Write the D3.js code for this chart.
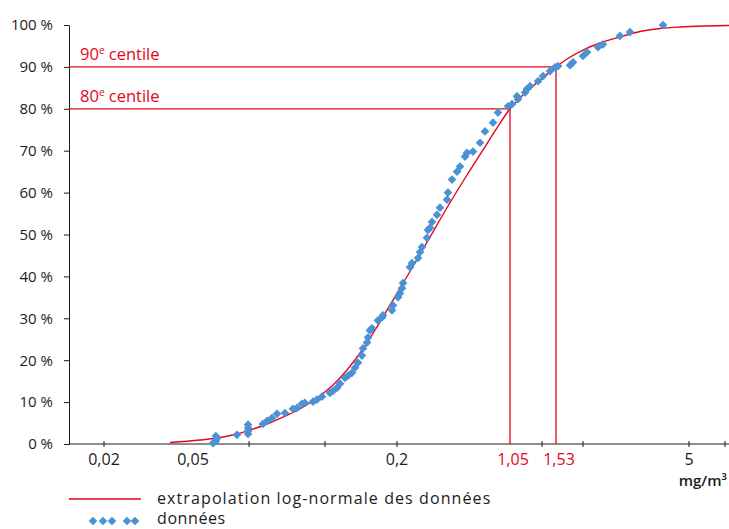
<!DOCTYPE html>
<html><head><meta charset="utf-8">
<script src="https://cdn.jsdelivr.net/npm/d3@7"></script>
<style>
body{margin:0;background:#fff}
svg{display:block}
text{font-family:"Open Sans",sans-serif;}
</style>
</head><body>
<svg id="chart" width="729" height="529"></svg>
<script>
// ---- data (concentration in mg/m³, cumulative %) ----
const dataConc = [0.0573,0.0584,0.0589,0.0584,0.0674,0.0727,0.0727,0.0727,0.0727,0.0804,0.0827,0.0855,0.0885,0.0934,0.0986,0.1014,0.1048,0.1070,0.1130,0.1161,0.1201,0.1268,0.1295,0.1330,0.1358,0.1404,0.1434,0.1473,0.1503,0.1534,0.1576,0.1587,0.1631,0.1642,0.1664,0.1687,0.1757,0.1806,0.1818,0.1933,0.1946,0.2030,0.2090,0.2152,0.2184,0.2420,0.2493,0.2722,0.2804,0.2886,0.3106,0.3152,0.3246,0.3343,0.3597,0.3758,0.4166,0.4227,0.4483,0.4826,0.5042,0.5425,0.5587,0.6102,0.6763,0.7277,0.8184,0.8804,1.0196,1.067,1.121,1.112,1.188,1.207,1.237,1.321,1.376,1.457,1.518,1.558,1.734,1.780,1.946,2.017,2.224,2.324,2.705,2.956,3.966];
const dataPct  = [0.2,0.7,1.4,1.9,2.2,2.4,3.1,3.8,4.6,4.8,5.5,6.2,7.2,7.4,8.4,8.6,9.6,9.8,10.1,10.6,11.3,12.2,12.7,13.4,14.4,15.8,16.3,17.0,18.2,19.4,21.1,22.8,24.2,25.4,27.1,27.6,29.5,30.2,30.7,31.9,33.1,35.0,36.0,37.2,38.4,42.2,43.2,44.4,45.8,47.0,49.2,51.1,51.6,53.0,54.7,56.4,58.3,60.0,63.1,65.0,66.2,68.6,69.5,69.8,71.9,74.6,76.7,79.1,80.6,81.1,82.3,83.0,83.9,84.7,85.4,86.6,87.8,89.0,89.9,90.2,90.4,91.1,92.6,93.5,94.7,95.4,97.4,98.3,100.0];

// log-normal extrapolation curve
const fitConc = [0.0395,0.0524,0.0589,0.0665,0.0736,0.0827,0.0921,0.1034,0.1161,0.1295,0.1424,0.1587,0.1745,0.1907,0.2152,0.2605,0.3246,0.4227,0.5587,0.7066,0.8677,1.05,1.158,1.267,1.398,1.53,1.688,1.946,2.263,2.705,3.231,3.860,4.614,6.60,10];
const fitPct  = [0.36,0.95,1.43,2.27,3.34,4.77,6.44,8.35,10.98,14.08,17.66,22.67,27.92,33.17,37.95,43.2,49.4,56.8,64.2,70.17,75.42,80.0,83.05,85.44,87.83,90.0,91.89,94.03,95.7,97.14,98.45,99.16,99.52,99.76,99.88];

// centiles
const centilePct = [80, 90];
const centileConc = [1.05, 1.53];
const centileNames = ["80", "90"];
const centileValueLabels = ["1,05", "1,53"];

// axes
const yTicks = [0,10,20,30,40,50,60,70,80,90,100];
const xTickMarks = [0.02, 0.0732, 0.1226, 0.2, 1.365, 1.946, 5, 9.33];
const xLabelValues = [0.02, 0.05, 0.2, 5];
const xLabelTexts = ["0,02", "0,05", "0,2", "5"];
const xDomainAnchors = [0.01, 0.02, 0.05, 0.2, 1.05, 1.53, 5, 10];

// ---- drawing ----
const RED = "#e2061b", BLUE = "#4a92d4", INK = "#1c1c1c";
const svg = d3.select("#chart");
const x = d3.scaleLog().domain(xDomainAnchors).range([69, 104, 193, 397, 510, 556, 689, 729]);
const y = d3.scaleLinear().domain([0, 100]).range([444, 25]);

// y axis
const yAxis = svg.append("g").attr("transform", "translate(69,0)")
  .call(d3.axisLeft(y).tickValues(yTicks).tickSize(5).tickSizeOuter(0).tickPadding(11).tickFormat(d => d + " %"));
yAxis.selectAll("path,line").attr("stroke", INK);
yAxis.selectAll("text").attr("font-size", 15).attr("fill", INK).attr("font-family", '"Open Sans",sans-serif');

// x axis
svg.append("line").attr("x1", x.range()[0]).attr("x2", 729).attr("y1", y(0)).attr("y2", y(0)).attr("stroke", INK);
svg.append("g").selectAll("line").data(xTickMarks).join("line")
  .attr("x1", d => x(d)).attr("x2", d => x(d)).attr("y1", y(0) - 3).attr("y2", y(0) + 3).attr("stroke", INK);
svg.append("g").selectAll("text").data(xLabelValues).join("text")
  .attr("x", d => x(d)).attr("y", 465).attr("text-anchor", "middle")
  .attr("font-size", 16).attr("fill", INK).text((d, i) => xLabelTexts[i]);
svg.append("text").attr("x", 727).attr("y", 486).attr("text-anchor", "end")
  .attr("font-size", 15).attr("font-weight", 600).attr("fill", INK).text("mg/m³");

// centile lines
centilePct.forEach((p, i) => {
  const cx = x(centileConc[i]), cy = y(p);
  svg.append("line").attr("x1", x.range()[0]).attr("x2", cx).attr("y1", cy).attr("y2", cy).attr("stroke", RED).attr("stroke-width", 1.3);
  svg.append("line").attr("x1", cx).attr("x2", cx).attr("y1", cy).attr("y2", y(0)).attr("stroke", RED).attr("stroke-width", 1.3);
  const t = svg.append("text").attr("x", 80).attr("y", cy - 7).attr("font-size", 16.5).attr("fill", RED);
  t.append("tspan").text(centileNames[i]);
  t.append("tspan").attr("font-size", 10).attr("dy", -6).text("e");
  t.append("tspan").attr("dy", 6).text(" centile");
  svg.append("text").attr("x", cx + 3).attr("y", 465).attr("text-anchor", "middle")
    .attr("font-size", 16).attr("fill", RED).text(centileValueLabels[i]);
});

// fitted curve
const line = d3.line().x(d => x(d[0])).y(d => y(d[1])).curve(d3.curveMonotoneX);
svg.append("path").datum(fitConc.map((c, i) => [c, fitPct[i]]))
  .attr("d", line).attr("fill", "none").attr("stroke", RED).attr("stroke-width", 1.4);

// data points
const diamond = d3.symbol(d3.symbolSquare, 38);
svg.append("g").selectAll("path").data(dataConc.map((c, i) => [c, dataPct[i]])).join("path")
  .attr("d", diamond)
  .attr("transform", d => `translate(${x(d[0])},${y(d[1])}) rotate(45)`)
  .attr("fill", BLUE);

// legend
svg.append("line").attr("x1", 69).attr("x2", 141).attr("y1", 499).attr("y2", 499).attr("stroke", RED).attr("stroke-width", 1.4);
svg.append("text").attr("x", 157).attr("y", 504).attr("font-size", 16).attr("letter-spacing", 1.1).attr("fill", INK).text("extrapolation log-normale des données");
svg.append("g").selectAll("path").data([93, 103, 112, 127, 135]).join("path")
  .attr("d", diamond).attr("transform", d => `translate(${d},521) rotate(45)`).attr("fill", BLUE);
svg.append("text").attr("x", 157).attr("y", 524).attr("font-size", 16).attr("letter-spacing", 0.6).attr("fill", INK).text("données");
</script>
</body></html>
